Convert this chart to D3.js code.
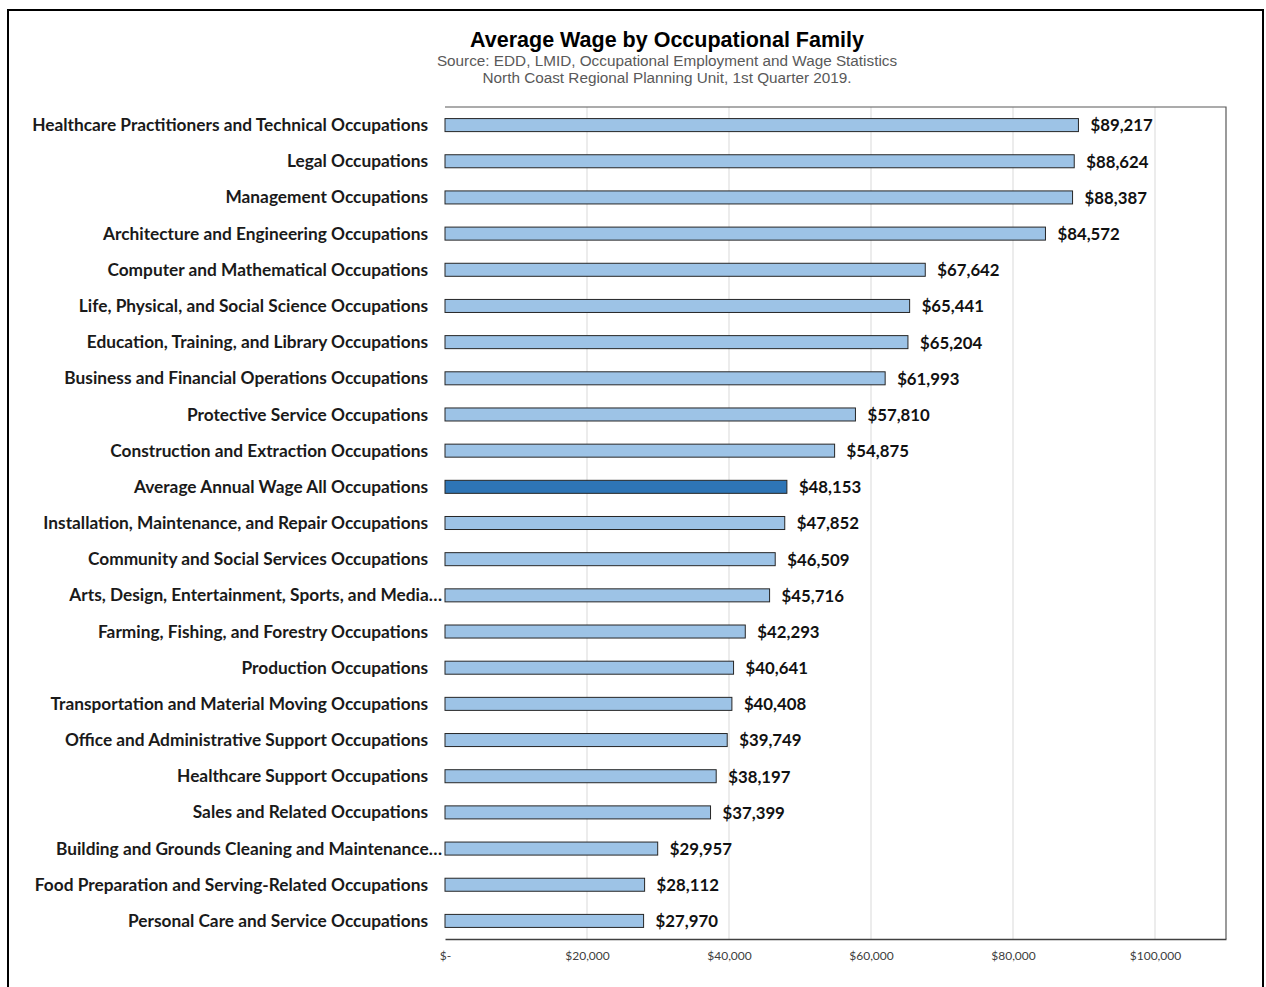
<!DOCTYPE html>
<html lang="en">
<head>
<meta charset="UTF-8">
<title>Average Wage by Occupational Family</title>
<script src="https://cdn.jsdelivr.net/npm/d3@7"></script>
<style>
    body{ margin: 0; background: #fff; }
    .cat{ font-family: Lato, "Open Sans", sans-serif; font-weight: 700; font-size: 17.3px; fill: #1a1a1a; }
    .val{ font-family: Lato, "Open Sans", sans-serif; font-weight: 700; font-size: 16.8px; fill: #111; }
    .tick text{ font-family: Lato, sans-serif; font-size: 12px; fill: #404040; }
</style>
</head>
<body>
<svg id="chart" width="1266" height="987"></svg>
<script>
    // data
    let categories = [
        "Healthcare Practitioners and Technical Occupations",
        "Legal Occupations",
        "Management Occupations",
        "Architecture and Engineering Occupations",
        "Computer and Mathematical Occupations",
        "Life, Physical, and Social Science Occupations",
        "Education, Training, and Library Occupations",
        "Business and Financial Operations Occupations",
        "Protective Service Occupations",
        "Construction and Extraction Occupations",
        "Average Annual Wage All Occupations",
        "Installation, Maintenance, and Repair Occupations",
        "Community and Social Services Occupations",
        "Arts, Design, Entertainment, Sports, and Media…",
        "Farming, Fishing, and Forestry Occupations",
        "Production Occupations",
        "Transportation and Material Moving Occupations",
        "Office and Administrative Support Occupations",
        "Healthcare Support Occupations",
        "Sales and Related Occupations",
        "Building and Grounds Cleaning and Maintenance…",
        "Food Preparation and Serving-Related Occupations",
        "Personal Care and Service Occupations"
    ]
    let wages = [89217, 88624, 88387, 84572, 67642, 65441, 65204, 61993, 57810, 54875,
        48153, 47852, 46509, 45716, 42293, 40641, 40408, 39749, 38197, 37399,
        29957, 28112, 27970]
    let highlight = "Average Annual Wage All Occupations"
    let x_ticks = [0, 20000, 40000, 60000, 80000, 100000]

    let svg = d3.select("#chart")

    // outer frame
    svg.append("rect")
        .attr("x", 8).attr("y", 10)
        .attr("width", 1255).attr("height", 990)
        .attr("fill", "none")
        .attr("stroke", "#000")
        .attr("stroke-width", 2)

    // titles
    svg.append("text")
        .attr("x", 667).attr("y", 47)
        .attr("text-anchor", "middle")
        .style("font-family", "Arial, 'Liberation Sans', sans-serif")
        .style("font-weight", "700")
        .style("font-size", "21.5px")
        .text("Average Wage by Occupational Family")
    let subs = ["Source: EDD, LMID, Occupational Employment and Wage Statistics",
        "North Coast Regional Planning Unit, 1st Quarter 2019."]
    svg.selectAll(".sub")
        .data(subs)
        .join("text")
        .attr("class", "sub")
        .attr("x", 667)
        .attr("y", (d, i) => 66 + i * 17)
        .attr("text-anchor", "middle")
        .style("font-family", "Arial, 'Liberation Sans', sans-serif")
        .style("font-size", "15.3px")
        .style("fill", "#595959")
        .text(d => d)

    let p_left = 445, p_right = 1226, p_top = 107, p_bottom = 939

    let x_scale = d3.scaleLinear()
        .domain([0, 110000])
        .range([p_left, p_right])

    let y_scale = d3.scaleBand()
        .domain(categories)
        .range([p_top, p_bottom])
        .paddingInner(0.64)
        .paddingOuter(0.32)

    // gridlines
    svg.append("g")
        .selectAll("line")
        .data(x_ticks.filter(d => d > 0))
        .join("line")
        .attr("x1", d => x_scale(d)).attr("x2", d => x_scale(d))
        .attr("y1", p_top).attr("y2", p_bottom)
        .attr("stroke", "#d9d9d9")
        .attr("stroke-width", 1)

    // plot area border
    svg.append("path")
        .attr("d", `M${p_left},${p_top}H${p_right}V${p_bottom}`)
        .attr("fill", "none")
        .attr("stroke", "#595959")
        .attr("stroke-width", 1.2)

    // x axis
    let x_axis = d3.axisBottom(x_scale)
        .tickValues(x_ticks)
        .tickSize(0)
        .tickPadding(12)
        .tickFormat(d => d === 0 ? "$-" : d3.format("$,")(d))
    let gx = svg.append("g")
        .attr("transform", `translate(0,${p_bottom})`)
        .call(x_axis)
    gx.select(".domain").attr("stroke", "#404040").attr("stroke-width", 1.5)

    // bars
    svg.append("g")
        .selectAll("rect")
        .data(categories)
        .join("rect")
        .attr("x", x_scale(0))
        .attr("y", d => y_scale(d))
        .attr("width", (d, i) => x_scale(wages[i]) - x_scale(0))
        .attr("height", y_scale.bandwidth())
        .attr("fill", d => d === highlight ? "#2e75b6" : "#9dc3e6")
        .attr("stroke", "#262626")
        .attr("stroke-width", 1)

    // category labels
    svg.append("g")
        .selectAll("text")
        .data(categories)
        .join("text")
        .attr("class", "cat")
        .attr("x", d => d.endsWith("…") ? p_left - 3 : p_left - 17)
        .attr("y", d => y_scale(d) + y_scale.bandwidth() / 2)
        .attr("dy", "0.35em")
        .attr("text-anchor", "end")
        .text(d => d)

    // value labels
    svg.append("g")
        .selectAll("text")
        .data(categories)
        .join("text")
        .attr("class", "val")
        .attr("x", (d, i) => x_scale(wages[i]) + 12)
        .attr("y", d => y_scale(d) + y_scale.bandwidth() / 2)
        .attr("dy", "0.38em")
        .text((d, i) => d3.format("$,")(wages[i]))
</script>
</body>
</html>
